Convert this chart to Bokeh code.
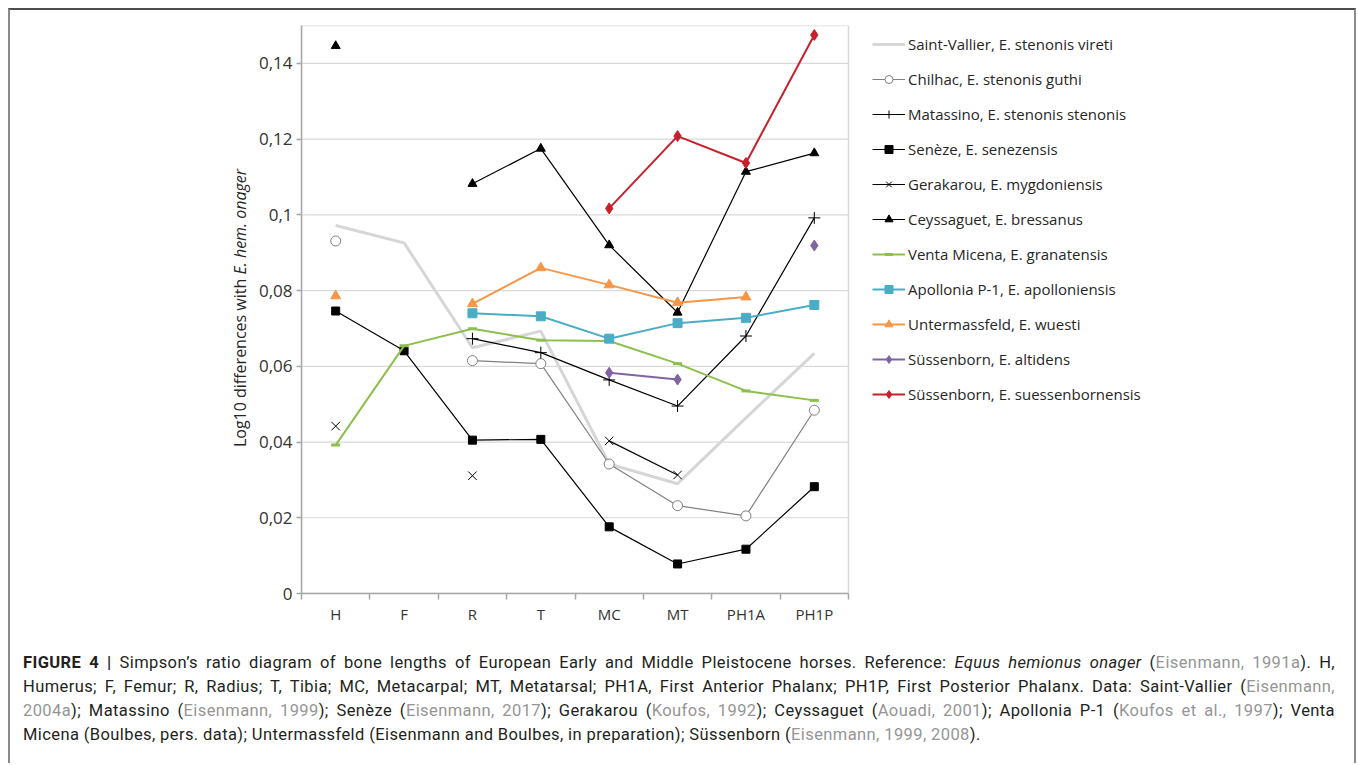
from bokeh.plotting import figure
from bokeh.models import Range1d, FixedTicker, Legend, LegendItem, Div
from bokeh.layouts import column, row
from bokeh.embed import file_html
from bokeh.resources import INLINE

nan = float("nan")

categories = ["H", "F", "R", "T", "MC", "MT", "PH1A", "PH1P"]
y_ticks = [0, 0.02, 0.04, 0.06, 0.08, 0.1, 0.12, 0.14]
y_tick_labels = ["0", "0,02", "0,04", "0,06", "0,08", "0,1", "0,12", "0,14"]
y_max = 0.15

saint_vallier = [0.0972, 0.0926, 0.0649, 0.0693, 0.0342, 0.0290, 0.0464, 0.0634]
chilhac = [0.0931, nan, 0.0615, 0.0607, 0.0342, 0.0232, 0.0205, 0.0484]
matassino = [nan, nan, 0.0673, 0.0636, 0.0564, 0.0495, 0.0680, 0.0992]
seneze = [0.0746, 0.0641, 0.0405, 0.0407, 0.0176, 0.0078, 0.0117, 0.0282]
gerakarou = [0.0442, nan, 0.0311, nan, 0.0403, 0.0313, nan, nan]
ceyssaguet = [0.1446, nan, 0.1082, 0.1175, 0.0920, 0.0742, 0.1114, 0.1163]
venta_micena = [0.0392, 0.0654, 0.0699, 0.0669, 0.0667, 0.0607, 0.0535, 0.0510]
apollonia = [nan, nan, 0.0740, 0.0732, 0.0673, 0.0714, 0.0728, 0.0762]
untermassfeld = [0.0786, nan, 0.0765, 0.0860, 0.0815, 0.0768, 0.0783, nan]
altidens = [nan, nan, nan, nan, 0.0583, 0.0565, nan, 0.0919]
suessenbornensis = [nan, nan, nan, nan, 0.1017, 0.1208, 0.1137, 0.1475]

series_labels = [
    "Saint-Vallier, E. stenonis vireti",
    "Chilhac, E. stenonis guthi",
    "Matassino, E. stenonis stenonis",
    "Senèze, E. senezensis",
    "Gerakarou, E. mygdoniensis",
    "Ceyssaguet, E. bressanus",
    "Venta Micena, E. granatensis",
    "Apollonia P-1, E. apolloniensis",
    "Untermassfeld, E. wuesti",
    "Süssenborn, E. altidens",
    "Süssenborn, E. suessenbornensis",
]

# (values, line color, line width, marker, size, fill, marker line color, marker line width)
styles = [
    (saint_vallier, "#d6d6d6", 3, None, 0, None, None, 1),
    (chilhac, "#808080", 1.2, "circle", 10, "white", "#808080", 1),
    (matassino, "#000000", 1.2, "cross", 12, None, "#000000", 1),
    (seneze, "#000000", 1.2, "square", 8, "#000000", "#000000", 1),
    (gerakarou, "#000000", 1.2, "x", 12, None, "#000000", 1),
    (ceyssaguet, "#000000", 1.2, "triangle", 9, "#000000", "#000000", 1),
    (venta_micena, "#8dbf4e", 2, "dash", 9, None, "#8dbf4e", 3),
    (apollonia, "#4bacc6", 2, "square", 9, "#4bacc6", "#4bacc6", 1),
    (untermassfeld, "#f79646", 2, "triangle", 10, "#f79646", "#f79646", 1),
    (altidens, "#8064a2", 2, "diamond", 11, "#8064a2", "#8064a2", 1),
    (suessenbornensis, "#c8202a", 2, "diamond", 11, "#c8202a", "#c8202a", 1),
]

n_cat = len(categories)
x_pos = [i + 0.5 for i in range(n_cat)]

CHART_FONT = "Open Sans"
YLAB_W = 242
FIG_W, FIG_H = 1344 - YLAB_W, 630
BORDER_L, BORDER_R = 49, 10
PLOT_W = 547  # pixel width of the category area; the legend sits to its right
frame_w = FIG_W - BORDER_L - BORDER_R
x_end = n_cat * frame_w / PLOT_W

p = figure(width=FIG_W, height=FIG_H, x_range=Range1d(0, x_end),
           y_range=Range1d(0, y_max), output_backend="svg", toolbar_location=None,
           min_border_left=BORDER_L, min_border_right=BORDER_R, min_border_top=15,
           min_border_bottom=47)
p.outline_line_color = None
p.xgrid.visible = False
p.ygrid.visible = False

# horizontal gridlines and plot-area border, limited to the category area
p.segment(x0=[0] * (len(y_ticks) - 1), x1=[n_cat] * (len(y_ticks) - 1),
          y0=y_ticks[1:], y1=y_ticks[1:], line_color="#d9d9d9", line_width=1.2)
p.quad(left=[0], right=[n_cat], bottom=[0], top=[y_max], fill_color=None,
       line_color="#d9d9d9", line_width=1.5)

ya = p.yaxis[0]
ya.axis_label = None
ya.ticker = FixedTicker(ticks=y_ticks)
ya.major_label_overrides = {t: l for t, l in zip(y_ticks, y_tick_labels)}
ya.axis_line_color = "#a6a6a6"
ya.axis_line_width = 1.5
ya.major_tick_line_color = "#a6a6a6"
ya.major_tick_line_width = 1.5
ya.major_tick_out = 5
ya.major_tick_in = 0
ya.minor_tick_line_color = None
ya.major_label_standoff = 4
ya.major_label_text_font = CHART_FONT
ya.major_label_text_font_size = "17px"
ya.major_label_text_color = "#333333"

xa = p.xaxis[0]
xa.axis_label = None
xa.bounds = (0, n_cat)
xa.ticker = FixedTicker(ticks=x_pos, minor_ticks=list(range(n_cat + 1)))
xa.major_label_overrides = {x: c for x, c in zip(x_pos, categories)}
xa.axis_line_color = "#a6a6a6"
xa.axis_line_width = 1.5
xa.major_tick_line_color = None
xa.major_tick_out = 0
xa.major_tick_in = 0
xa.minor_tick_line_color = "#a6a6a6"
xa.minor_tick_line_width = 1.5
xa.minor_tick_out = 6
xa.minor_tick_in = 0
xa.major_label_standoff = 4
xa.major_label_text_font = CHART_FONT
xa.major_label_text_font_size = "15px"
xa.major_label_text_color = "#333333"

items = []
for label, (vals, lc, lw, marker, size, fill, mlc, mlw) in zip(series_labels, styles):
    rs = [p.line(x_pos, vals, line_color=lc, line_width=lw)]
    if marker is not None:
        rs.append(p.scatter(x_pos, vals, marker=marker, size=size,
                            fill_color=fill, line_color=mlc, line_width=mlw))
    items.append(LegendItem(label=label, renderers=rs))

legend = Legend(items=items, location=(571, 189), orientation="vertical",
                glyph_width=33, glyph_height=20, label_height=20, spacing=15,
                padding=0, margin=0, border_line_color=None,
                background_fill_alpha=0, label_standoff=3,
                label_text_font=CHART_FONT, label_text_font_size="15px",
                label_text_color="#262626")
p.add_layout(legend)

ylabel_html = (
    '<div style="position:relative;width:242px;height:630px;">'
    '<div style="position:absolute;left:230px;top:298px;transform:translate(-50%,-50%) rotate(-90deg);'
    'white-space:nowrap;font-family:\'Open Sans\';font-size:16px;color:#262626;line-height:20px;">'
    'Log10 differences with <i>E. hem. onager</i></div></div>'
)
ydiv = Div(text=ylabel_html, width=YLAB_W, height=FIG_H, margin=0)


def g(s):
    return '<span style="color:#959595">' + s + '</span>'


caption_lines = [
    '<b>FIGURE 4 |</b> Simpson’s ratio diagram of bone lengths of European Early and Middle '
    'Pleistocene horses. Reference: <i>Equus hemionus onager</i> (' + g('Eisenmann, 1991a') + '). H,',
    'Humerus; F, Femur; R, Radius; T, Tibia; MC, Metacarpal; MT, Metatarsal; PH1A, First Anterior '
    'Phalanx; PH1P, First Posterior Phalanx. Data: Saint-Vallier (' + g('Eisenmann,'),
    g('2004a') + '); Matassino (' + g('Eisenmann, 1999') + '); Senèze (' + g('Eisenmann, 2017') +
    '); Gerakarou (' + g('Koufos, 1992') + '); Ceyssaguet (' + g('Aouadi, 2001') +
    '); Apollonia P-1 (' + g('Koufos et al., 1997') + '); Venta',
    'Micena (Boulbes, pers. data); Untermassfeld (Eisenmann and Boulbes, in preparation); '
    'Süssenborn (' + g('Eisenmann, 1999, 2008') + ').',
]

inner = ''.join('<div style="text-align:justify;text-align-last:justify;">'
                + l + '</div>' for l in caption_lines[:-1])
inner += '<div style="text-align:left;">' + caption_lines[-1] + '</div>'
html = ('<div style="font-family:Roboto;font-size:16.5px;letter-spacing:0.4px;color:#231f20;'
        'line-height:24px;padding:0 19px 0 13px;margin-top:11px;box-sizing:border-box;width:1344px;">'
        + inner + '</div>')
div = Div(text=html, width=1344, height=123, margin=0)

layout = column(row(ydiv, p), div,
                styles={"margin-left": "8px", "margin-top": "8px",
                        "border-top": "2px solid #4d4d4d",
                        "border-left": "2px solid #8a8a8a",
                        "border-right": "2px solid #8a8a8a"})

open("out.html", "w").write(file_html(layout, INLINE))
